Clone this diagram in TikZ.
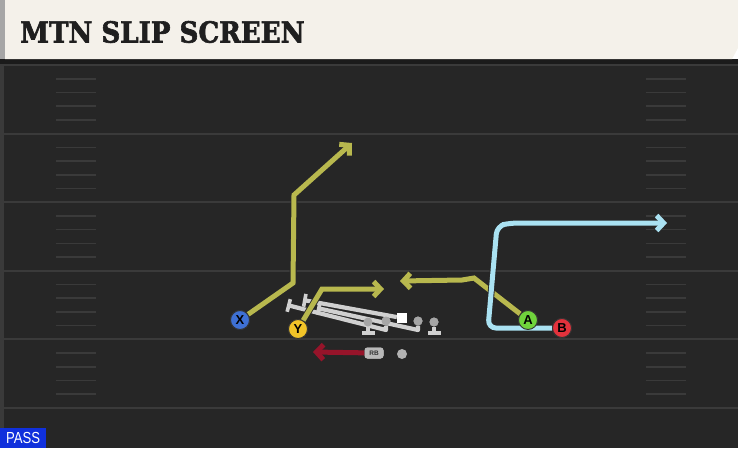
\documentclass[tikz,border=0pt]{standalone}
\usepackage{fontspec}
\setmainfont{DejaVu Serif}
\newfontfamily\titlefont{DejaVu Serif}[FakeBold=2.2]
\newfontfamily\labelfont{Liberation Sans}
\usetikzlibrary{arrows.meta}

\definecolor{fieldgray}{HTML}{262626}
\definecolor{bandgray}{HTML}{1B1B1B}
\definecolor{linegray}{HTML}{3A3A3A}
\definecolor{headercream}{HTML}{F4F1EA}
\definecolor{routeolive}{RGB}{184,184,78}
\definecolor{routeblue}{RGB}{170,226,242}
\definecolor{routered}{RGB}{150,20,42}
\definecolor{blockgray}{RGB}{208,208,208}
\definecolor{xblue}{RGB}{62,112,212}
\definecolor{yyellow}{RGB}{242,196,40}
\definecolor{agreen}{RGB}{112,212,60}
\definecolor{bred}{RGB}{226,50,60}
\definecolor{passblue}{RGB}{16,48,220}

\tikzset{
  player/.style={circle, draw=black!80, line width=0.9pt, minimum size=19pt,
    inner sep=0pt, font=\labelfont\bfseries\fontsize{13}{13}\selectfont},
  lineman/.style={circle, fill=blockgray!80!black, minimum size=9pt, inner sep=0pt},
  center/.style={fill=white, minimum size=10pt, inner sep=0pt},
  rbtag/.style={fill=gray!55, rounded corners=3pt, minimum width=19pt,
    minimum height=11pt, inner sep=0pt,
    font=\labelfont\bfseries\fontsize{6.5}{6.5}\selectfont, text=black!80},
  route/.style={line width=5pt, line join=miter,
    -{Straight Barb[length=7pt,width=15pt]},
    preaction={draw=black!85, line width=6.8pt}},
  block/.style={draw=blockgray, line width=4.2pt, line join=round,
    -{Bar[width=13pt,line width=3.6pt]}},
  hash/.style={draw=linegray, line width=1.6pt}
}

\begin{document}
\begin{tikzpicture}[x=1pt,y=-1pt]
  \useasboundingbox (0,0) rectangle (738,448);
  % field
  \fill[fieldgray] (0,59) rectangle (738,448);
  \fill[bandgray] (0,59) rectangle (738,64);
  \fill[linegray] (0,64) rectangle (4,448);
  \foreach \k in {0,...,5}
    \draw[draw=linegray, line width=2pt] (0,65+68.6*\k) -- (738,65+68.6*\k);
  \foreach \k in {0,...,4}
    \foreach \i in {1,...,4} {
      \draw[hash] (56,65+68.6*\k+13.72*\i) -- (96,65+68.6*\k+13.72*\i);
      \draw[hash] (646,65+68.6*\k+13.72*\i) -- (686,65+68.6*\k+13.72*\i);
    }
  % header
  \fill[headercream] (5,0) -- (738,0) -- (738,48) -- (732,59) -- (5,59) -- cycle;
  \fill[gray!70] (0,0) rectangle (5,59);
  \node[anchor=west, inner sep=0pt, text=black!88] (title) at (20,32)
    {\titlefont\fontsize{29}{29}\selectfont\bfseries\scalebox{0.9}[1]{MTN SLIP SCREEN}};
  % pass tag
  \node[fill=passblue, text=white, anchor=south west, minimum width=46pt,
    minimum height=20pt, inner sep=0pt, font=\labelfont\fontsize{16}{16}\selectfont]
    (pass) at (0,448) {\scalebox{0.82}[1]{PASS}};

  % offensive line
  \node[lineman] (lt) at (368,322) {};
  \node[lineman] (lg) at (386,321) {};
  \node[center] (c) at (402,318) {};
  \node[lineman] (rg) at (418,321) {};
  \node[lineman] (rt) at (434,322) {};
  \coordinate (lgend) at (287,305);
  \coordinate (cend) at (303,300);
  \coordinate (rgend) at (317,308);
  \begin{scope}[preaction={draw=black!80, line width=5.6pt}]
    \draw[block] (lg) -- (386,330) -- (lgend);
    \draw[block] (rg) -- (418,330) -- (rgend);
    \draw[block] (c) -- (cend);
    \draw[block] (lt) -- (368,335);
    \draw[block] (rt) -- (434,335);
  \end{scope}
  \node[lineman] at (lt) {};
  \node[lineman] at (lg) {};
  \node[lineman] at (rg) {};
  \node[lineman] at (rt) {};
  \node[center] at (c) {};

  % backfield
  \node[rbtag] (rb) at (374,353) {RB};
  \node[circle, fill=gray!60, minimum size=10pt, inner sep=0pt] (qb) at (402,354) {};

  % receivers
  \node[player, fill=xblue] (x) at (240,320) {X};
  \node[player, fill=yyellow] (y) at (298,329) {Y};
  \node[player, fill=agreen] (a) at (528,320) {A};
  \node[player, fill=bred] (b) at (562,328) {B};

  % routes
  \coordinate (xend) at (352,143);
  \coordinate (yend) at (384,289);
  \coordinate (aend) at (400,281);
  \coordinate (bend) at (667,223);
  \coordinate (rbend) at (313,352);
  \draw[route, draw=routeolive] (x) -- (293,283) -- (294,195) -- (xend);
  \draw[route, draw=routeolive] (y) -- (322,289) -- (yend);
  \draw[route, draw=routeolive] (a) -- (474,278) -- (462,280) -- (aend);
  \draw[route, draw=routeblue, rounded corners=8pt] (b) -- (488,328) -- (497,226)
    -- (510,223) -- (bend);
  \draw[route, draw=routered] (rb) -- (rbend);
  % players on top
  \node[player, fill=xblue] at (x) {X};
  \node[player, fill=yyellow] at (y) {Y};
  \node[player, fill=agreen] at (a) {A};
  \node[player, fill=bred] at (b) {B};
  \node[rbtag] at (rb) {RB};
\end{tikzpicture}
\end{document}
